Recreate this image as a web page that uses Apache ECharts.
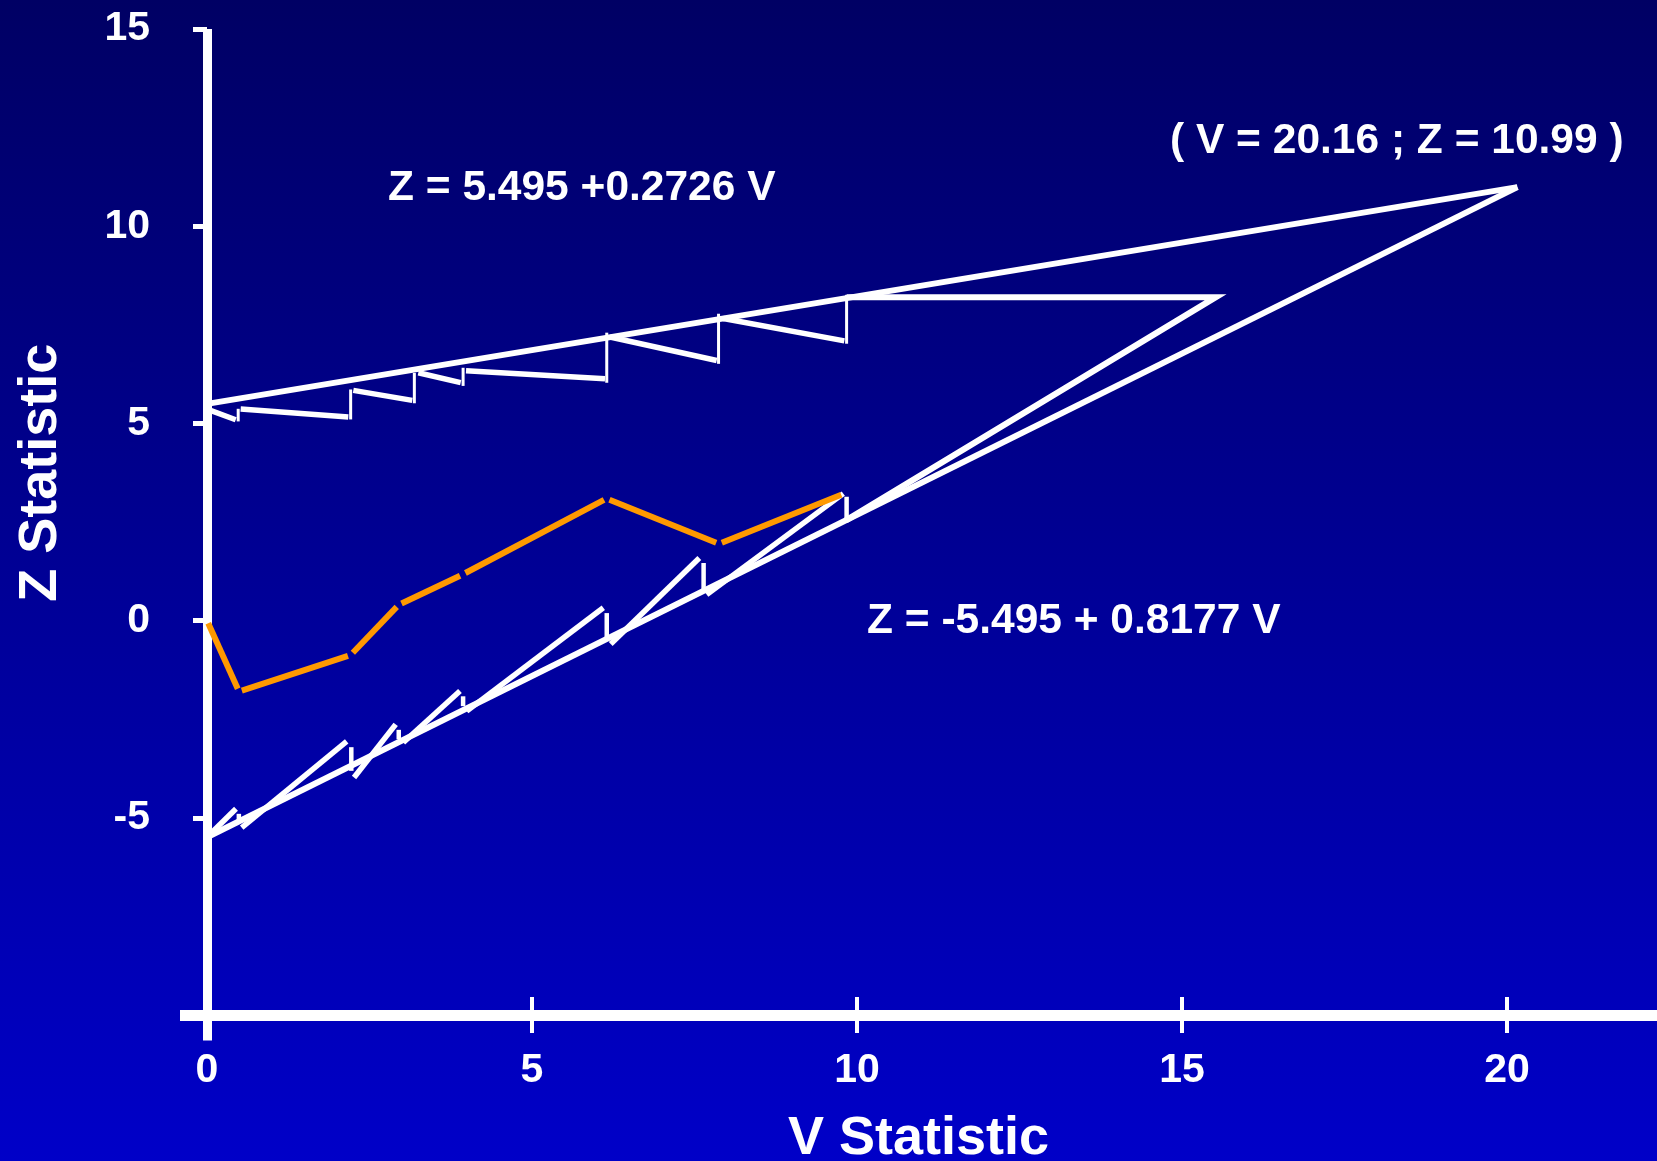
<!DOCTYPE html>
<html>
<head>
<meta charset="utf-8">
<script src="https://cdn.jsdelivr.net/npm/echarts@6/dist/echarts.min.js"></script>
<style>
  html, body { margin: 0; padding: 0; background: #000066; }
  #chart { width: 1657px; height: 1161px; }
</style>
</head>
<body>
<div id="chart"></div>
<script>
// Triangular test: continuation region bounded by
//   upper  Z =  5.495 + 0.2726 V
//   lower  Z = -5.495 + 0.8177 V
// meeting at the apex (V = 20.16 ; Z = 10.99)
const boundaryV = [0, 20.16];
const upperZ = [5.495, 10.99];
const lowerZ = [-5.495, 10.99];

// Christmas-tree corrected upper boundary: sloping pieces [V1, Z1, V2, Z2]
const upperSteps = [
  [0.000, 5.361, 0.442, 5.093],
  [0.518, 5.367, 2.174, 5.160],
  [2.251, 5.838, 3.158, 5.583],
  [3.251, 6.285, 3.903, 6.034],
  [3.985, 6.335, 6.123, 6.130],
  [6.200, 7.190, 7.842, 6.593],
  [7.943, 7.660, 9.805, 7.093]
];
// jumps of the upper boundary at each look [V, Zlow, Zhigh]
const upperJumps = [
  [0.48, 5.05, 5.37],
  [2.21, 5.10, 5.86],
  [3.19, 5.51, 6.28],
  [3.94, 5.95, 6.41],
  [6.15, 6.03, 7.30],
  [7.87, 6.51, 7.78],
  [9.84, 7.02, 8.26]
];

// Christmas-tree corrected lower boundary
const lowerSteps = [
  [0.000, -5.495, 0.446, -4.770],
  [0.534, -5.248, 2.149, -3.064],
  [2.262, -3.980, 2.903, -2.632],
  [3.020, -3.092, 3.892, -1.786],
  [3.995, -2.296, 6.097,  0.327],
  [6.211, -0.596, 7.574,  1.588],
  [7.688,  0.659, 9.789,  3.220]
];
const lowerJumps = [
  [0.49, -5.06, -4.90],
  [2.22, -3.81, -3.21],
  [2.95, -3.01, -2.77],
  [3.94, -2.17, -1.92],
  [6.15, -0.45,  0.19],
  [7.64,  0.79,  1.46],
  [9.84,  2.51,  3.14]
];

// truncated region after the last look
const stopV = [9.84, 15.52, 9.83];
const stopZ = [8.20, 8.20, 2.54];

// observed sample path (V, Z) at each look
const pathV = [0, 0.492, 2.212, 2.951, 3.935, 6.149, 7.877, 9.800];
const pathZ = [0, -1.800, -0.871, 0.401, 1.171, 3.094, 1.947, 3.220];

const xTickValues = [0, 5, 10, 15, 20];
const xTickMarks = [5, 10, 15, 20];
const yTickValues = [-5, 0, 5, 10, 15];

const FONT = '"Liberation Sans", Arial, Helvetica, sans-serif';
const WHITE = '#ffffff';
const ORANGE = '#ff9900';

// straight pieces drawn in data space; optional trim (px) leaves small gaps at the joints
function segmentSeries(name, segs, color, width, trim, z) {
  return {
    type: 'custom',
    name: name,
    coordinateSystem: 'cartesian2d',
    xAxisIndex: 0,
    yAxisIndex: 0,
    data: segs,
    encode: { x: [0, 2], y: [1, 3] },
    silent: true,
    z: z,
    renderItem: function (params, api) {
      let p1 = api.coord([api.value(0), api.value(1)]);
      let p2 = api.coord([api.value(2), api.value(3)]);
      if (trim) {
        const dx = p2[0] - p1[0], dy = p2[1] - p1[1];
        const len = Math.sqrt(dx * dx + dy * dy) || 1;
        const ux = dx / len * trim, uy = dy / len * trim;
        p1 = [p1[0] + ux, p1[1] + uy];
        p2 = [p2[0] - ux, p2[1] - uy];
      }
      return {
        type: 'line',
        shape: { x1: p1[0], y1: p1[1], x2: p2[0], y2: p2[1] },
        style: { stroke: color, lineWidth: width, lineCap: 'butt' }
      };
    }
  };
}

const jumpSegs = arr => arr.map(j => [j[0], j[1], j[0], j[2]]);
const pathSegs = [];
for (let i = 0; i + 1 < pathV.length; i++) {
  pathSegs.push([pathV[i], pathZ[i], pathV[i + 1], pathZ[i + 1]]);
}

const labelStyle = { color: WHITE, fontFamily: FONT, fontWeight: 'bold', fontSize: 41 };
const nameStyle = { color: WHITE, fontFamily: FONT, fontWeight: 'bold', fontSize: 54 };
const noteFont = 'bold 42.5px ' + FONT;

const chart = echarts.init(document.getElementById('chart'), null, { renderer: 'canvas' });

chart.setOption({
  animation: false,
  backgroundColor: {
    type: 'linear', x: 0, y: 0, x2: 0, y2: 1,
    colorStops: [
      { offset: 0, color: '#000064' },
      { offset: 1, color: '#0000c8' }
    ]
  },
  grid: {
    left: 180, right: 0, top: 29, bottom: 120.4,
    containLabel: false,
    outerBoundsMode: 'none'
  },
  xAxis: [
    {
      type: 'value',
      min: -0.4154, max: 22.3077,
      position: 'bottom',
      name: 'V Statistic',
      nameLocation: 'middle',
      nameGap: 72,
      nameMoveOverlap: false,
      nameTextStyle: nameStyle,
      axisLine: { show: true, onZero: true, onZeroAxisIndex: 1, lineStyle: { color: WHITE, width: 11, cap: 'butt' } },
      axisTick: { show: true, customValues: xTickMarks, length: 18, lineStyle: { color: WHITE, width: 4 } },
      axisLabel: { show: true, customValues: xTickValues, margin: 10, ...labelStyle },
      splitLine: { show: false }
    },
    {
      type: 'value',
      min: -0.4154, max: 22.3077,
      position: 'bottom',
      axisLine: { show: false, onZero: true, onZeroAxisIndex: 1 },
      axisTick: { show: true, inside: true, customValues: xTickMarks, length: 18, lineStyle: { color: WHITE, width: 4 } },
      axisLabel: { show: false },
      splitLine: { show: false }
    }
  ],
  yAxis: [
    {
      type: 'value',
      min: -10.65, max: 15,
      position: 'left',
      name: 'Z Statistic',
      nameLocation: 'middle',
      nameGap: 112,
      nameMoveOverlap: false,
      // extra leading padding lifts the rotated title along the axis
      nameTextStyle: { ...nameStyle, padding: [0, 0, 0, 124] },
      axisLine: { show: true, onZero: true, onZeroAxisIndex: 0, lineStyle: { color: WHITE, width: 9, cap: 'butt' } },
      axisTick: { show: true, customValues: yTickValues, length: 14, lineStyle: { color: WHITE, width: 5 } },
      axisLabel: { show: true, customValues: yTickValues, margin: 30, ...labelStyle },
      splitLine: { show: false }
    },
    {
      // shifted copy (Z + 10) whose zero sits at Z = -10, carrying the V axis
      type: 'value',
      min: -0.65, max: 25,
      position: 'right',
      show: false,
      axisLine: { onZero: false },
      splitLine: { show: false }
    }
  ],
  series: [
    {
      type: 'line', name: 'upper boundary',
      data: boundaryV.map((v, i) => [v, upperZ[i]]),
      symbol: 'none', silent: true, z: 3,
      lineStyle: { color: WHITE, width: 6, cap: 'butt' }
    },
    {
      type: 'line', name: 'lower boundary',
      data: boundaryV.map((v, i) => [v, lowerZ[i]]),
      symbol: 'none', silent: true, z: 3,
      lineStyle: { color: WHITE, width: 6, cap: 'butt' }
    },
    {
      type: 'line', name: 'stopping region',
      data: stopV.map((v, i) => [v, stopZ[i]]),
      symbol: 'none', silent: true, z: 3,
      lineStyle: { color: WHITE, width: 6, cap: 'butt', join: 'miter' }
    },
    segmentSeries('upper steps', upperSteps, WHITE, 5.5, 0, 3),
    segmentSeries('upper jumps', jumpSegs(upperJumps), WHITE, 3, 0, 3),
    segmentSeries('lower steps', lowerSteps, WHITE, 5.5, 0, 3),
    segmentSeries('lower jumps', jumpSegs(lowerJumps), WHITE, 4.5, 0, 3),
    segmentSeries('sample path', pathSegs, ORANGE, 6, 3, 4)
  ],
  graphic: [
    {
      type: 'text', x: 388, y: 188, silent: true,
      style: { text: 'Z = 5.495 +0.2726 V', fill: WHITE, font: noteFont, align: 'left', verticalAlign: 'middle' }
    },
    {
      type: 'text', x: 867, y: 621, silent: true,
      style: { text: 'Z = -5.495 + 0.8177 V', fill: WHITE, font: noteFont, align: 'left', verticalAlign: 'middle' }
    },
    {
      type: 'text', x: 1170, y: 141, silent: true,
      style: { text: '( V = 20.16 ; Z = 10.99 )', fill: WHITE, font: noteFont, align: 'left', verticalAlign: 'middle' }
    }
  ]
});
</script>
</body>
</html>
